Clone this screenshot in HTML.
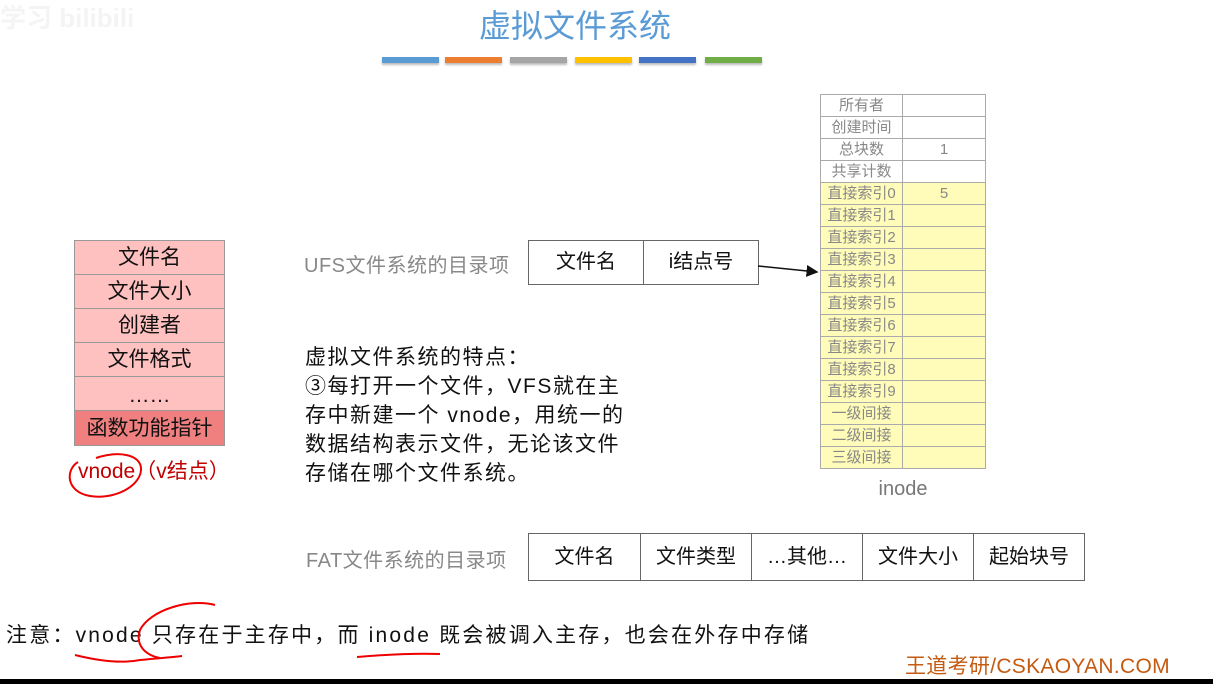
<!DOCTYPE html>
<html><head><meta charset="utf-8"><style>
body{margin:0;width:1213px;height:684px;position:relative;background:#fff;overflow:hidden;font-family:"Liberation Sans","Noto Sans CJK SC",sans-serif}
.a{position:absolute;white-space:nowrap}
.bar{position:absolute;top:57px;height:6px;box-shadow:0 2px 2px #bbb}
.vt{position:absolute;left:74px;width:151px;border:1px solid #999;box-sizing:border-box;background:#ffc0c0;text-align:center;font-size:21px;color:#111}
.it div{position:absolute;box-sizing:border-box;border:1px solid #aaa;font-size:15px;color:#888;text-align:center;line-height:21px;height:23px;white-space:nowrap;overflow:hidden}
.bx{position:absolute;border:1px solid #666;box-sizing:border-box;text-align:center;font-size:20px;color:#111}
</style></head><body>
<div class="a" style="left:0;top:-2px;font-size:26px;font-weight:bold;color:#f4f4f4">学习 bilibili</div>
<div class="a" style="left:0;width:1150px;top:1px;text-align:center;font-size:32px;color:#5b9bd5">虚拟文件系统</div>
<div class="bar" style="left:382px;width:57px;background:#5b9bd5"></div>
<div class="bar" style="left:445px;width:57px;background:#ed7d31"></div>
<div class="bar" style="left:510px;width:57px;background:#a5a5a5"></div>
<div class="bar" style="left:575px;width:57px;background:#ffc000"></div>
<div class="bar" style="left:639px;width:57px;background:#4472c4"></div>
<div class="bar" style="left:705px;width:57px;background:#70ad47"></div>

<div class="vt" style="top:240px;height:35px;line-height:34px">文件名</div>
<div class="vt" style="top:274px;height:35px;line-height:34px">文件大小</div>
<div class="vt" style="top:308px;height:35px;line-height:34px">创建者</div>
<div class="vt" style="top:342px;height:35px;line-height:34px">文件格式</div>
<div class="vt" style="top:376px;height:35px;line-height:38px">……</div>
<div class="vt" style="top:410px;height:36px;line-height:35px;background:#f08080">函数功能指针</div>
<div class="a" style="left:78px;top:455px;font-size:21px;color:#c00000">vnode（v结点）</div>

<div class="a" style="left:304px;top:249px;font-size:20px;letter-spacing:0.5px;color:#888">UFS文件系统的目录项</div>
<div class="bx" style="left:528px;top:240px;width:116px;height:45px;line-height:43px">文件名</div>
<div class="bx" style="left:643px;top:240px;width:116px;height:45px;line-height:43px">i结点号</div>

<div class="a" style="left:305px;top:343px;font-size:21px;letter-spacing:1.5px;line-height:29px;color:#111">虚拟文件系统的特点：<br>③每打开一个文件，VFS就在主<br>存中新建一个 vnode，用统一的<br>数据结构表示文件，无论该文件<br>存储在哪个文件系统。</div>

<div class="a" style="left:306px;top:544px;font-size:20px;letter-spacing:0.5px;color:#888">FAT文件系统的目录项</div>
<div class="bx" style="left:528px;top:533px;width:113px;height:48px;line-height:46px">文件名</div>
<div class="bx" style="left:640px;top:533px;width:112px;height:48px;line-height:46px">文件类型</div>
<div class="bx" style="left:751px;top:533px;width:112px;height:48px;line-height:46px">…其他…</div>
<div class="bx" style="left:862px;top:533px;width:112px;height:48px;line-height:46px">文件大小</div>
<div class="bx" style="left:973px;top:533px;width:112px;height:48px;line-height:46px">起始块号</div>

<div class="it" id="it"></div>
<div class="a" style="left:820px;width:166px;top:478px;text-align:center;font-size:20px;color:#777">inode</div>

<div class="a" style="left:6px;top:619px;font-size:21px;letter-spacing:2.2px;color:#111">注意：vnode 只存在于主存中，而 inode 既会被调入主存，也会在外存中存储</div>
<div class="a" style="left:905px;top:650px;font-size:21px;letter-spacing:0.3px;color:#c55a11">王道考研/CSKAOYAN.COM</div>
<div class="a" style="left:0;top:679px;width:1213px;height:5px;background:#000"></div>

<svg class="a" style="left:0;top:0" width="1213" height="684">
<defs><marker id="m" markerWidth="8" markerHeight="8" refX="7" refY="4" orient="auto"><path d="M0,0L8,4L0,8z" fill="#111"/></marker></defs>
<line x1="758" y1="266" x2="817" y2="272" stroke="#111" stroke-width="1.5" marker-end="url(#m)"/>
<g fill="none" stroke="#e00" stroke-width="2">
<path d="M78,462 C65,470 66,492 90,496 C115,500 140,486 141,470 C142,455 120,450 96,458"/>
<path d="M75,655 C95,660 120,664 140,660 C160,658 175,657 182,656"/>
<path d="M215,605 C190,598 150,610 140,630 C135,645 145,655 160,658"/>
<path d="M357,657 C380,655 410,653 440,654"/>
</g>
</svg>
<script>
var L=["所有者","创建时间","总块数","共享计数","直接索引0","直接索引1","直接索引2","直接索引3","直接索引4","直接索引5","直接索引6","直接索引7","直接索引8","直接索引9","一级间接","二级间接","三级间接"];
var R={2:"1",4:"5"};var h="";
for(var i=0;i<17;i++){var y=94+i*22,bg=i>=4?"#fffbb8":"#fff";
h+='<div style="left:820px;top:'+y+'px;width:83px;background:'+bg+'">'+L[i]+'</div>';
h+='<div style="left:902px;top:'+y+'px;width:84px;background:'+bg+'">'+(R[i]||"")+'</div>';}
document.getElementById("it").innerHTML=h;
</script>
</body></html>
